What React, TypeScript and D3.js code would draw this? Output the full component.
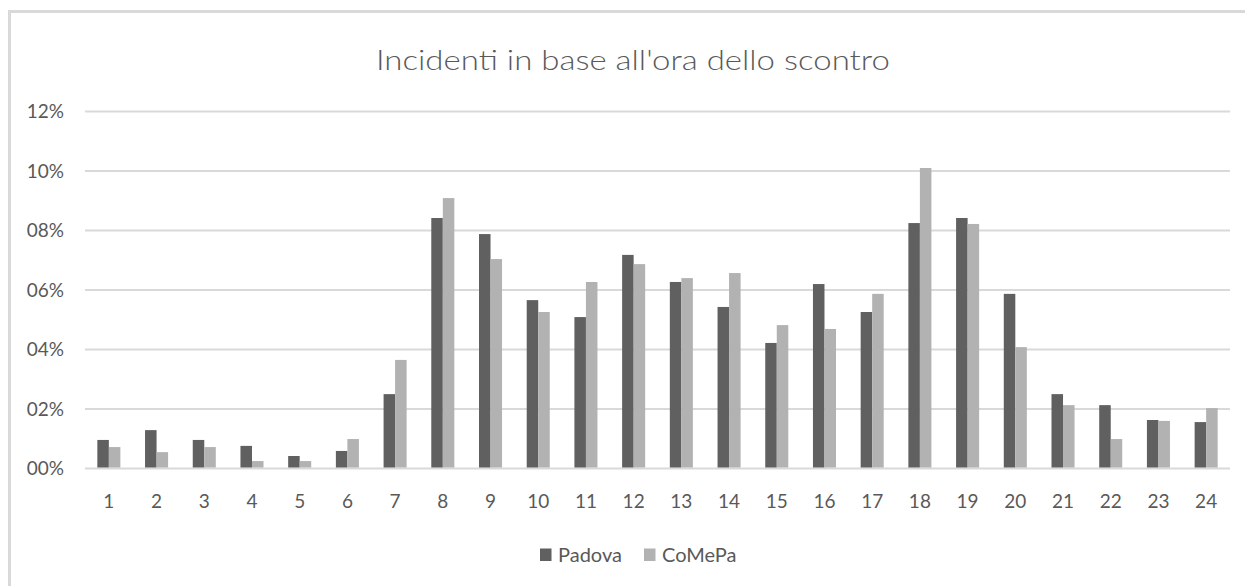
import React from "react";
import * as d3 from "d3";

// Accident share by hour of the day (percent)
const hours = ["1","2","3","4","5","6","7","8","9","10","11","12","13","14","15","16","17","18","19","20","21","22","23","24"];
const padova = [0.96,1.29,0.96,0.76,0.42,0.59,2.50,8.42,7.88,5.66,5.09,7.18,6.27,5.43,4.22,6.20,5.26,8.25,8.42,5.87,2.50,2.13,1.63,1.56];
const comepa = [0.72,0.55,0.72,0.25,0.25,0.99,3.65,9.09,7.04,5.26,6.27,6.87,6.40,6.57,4.82,4.69,5.87,10.10,8.22,4.08,2.13,0.99,1.60,2.03];
const seriesNames = ["Padova", "CoMePa"];
const yTicks = [0, 2, 4, 6, 8, 10, 12];
const yTickLabels = ["00%", "02%", "04%", "06%", "08%", "10%", "12%"];
const title = "Incidenti in base all'ora dello scontro";

const W = 1245;
const H = 586;
const FONT = "Lato, 'Open Sans', sans-serif";
const TEXT = "#595959";
const GRID = "#d9d9d9";
const COLORS = ["#606060", "#b2b2b2"];

export default function App() {
  const plot = { left: 85, right: 1230, top: 111.5, bottom: 468.5 };

  const x = d3.scaleBand<string>()
    .domain(hours)
    .range([plot.left, plot.right])
    .paddingInner(0.517)
    .paddingOuter(0.2585);
  const xs = d3.scaleBand<string>()
    .domain(seriesNames)
    .range([0, x.bandwidth()]);
  const y = d3.scaleLinear().domain([0, 12]).range([plot.bottom, plot.top]);

  const series = [padova, comepa];

  return (
    <svg
      width={W}
      height={H}
      style={{ position: "absolute", left: 0, top: 0, background: "#fff" }}
      fontFamily={FONT}
    >
      {/* chart frame */}
      <rect x={9.5} y={11.5} width={1250} height={590} fill="#fff" stroke={GRID} strokeWidth={3} />

      <text
        x={376}
        y={70}
        fontSize={28}
        fill={TEXT}
        fontWeight={300}
        textLength={514}
        lengthAdjust="spacingAndGlyphs"
      >
        {title}
      </text>

      {/* gridlines and y labels */}
      {yTicks.map((t, i) => (
        <g key={t}>
          <line x1={plot.left} x2={plot.right} y1={y(t)} y2={y(t)} stroke={GRID} strokeWidth={2} />
          <text x={64} y={y(t)} dy="0.35em" textAnchor="end" fontSize={19} fill={TEXT}>
            {yTickLabels[i]}
          </text>
        </g>
      ))}

      {/* bars */}
      {series.map((vals, si) => (
        <g key={si} fill={COLORS[si]}>
          {vals.map((v, i) => (
            <rect
              key={i}
              x={(x(hours[i]) ?? 0) + (xs(seriesNames[si]) ?? 0)}
              y={y(v)}
              width={xs.bandwidth()}
              height={y(0) - y(v) - 1}
            />
          ))}
        </g>
      ))}

      {/* x labels */}
      {hours.map((h) => (
        <text
          key={h}
          x={(x(h) ?? 0) + x.bandwidth() / 2}
          y={508}
          textAnchor="middle"
          fontSize={19}
          fill={TEXT}
        >
          {h}
        </text>
      ))}

      {/* legend */}
      {seriesNames.map((n, i) => {
        const lx = [540, 644][i];
        return (
          <g key={n}>
            <rect x={lx} y={548.5} width={11.5} height={12.5} fill={COLORS[i]} />
            <text x={lx + 18} y={555} dy="0.35em" fontSize={20} fill={TEXT}>
              {n}
            </text>
          </g>
        );
      })}
    </svg>
  );
}
